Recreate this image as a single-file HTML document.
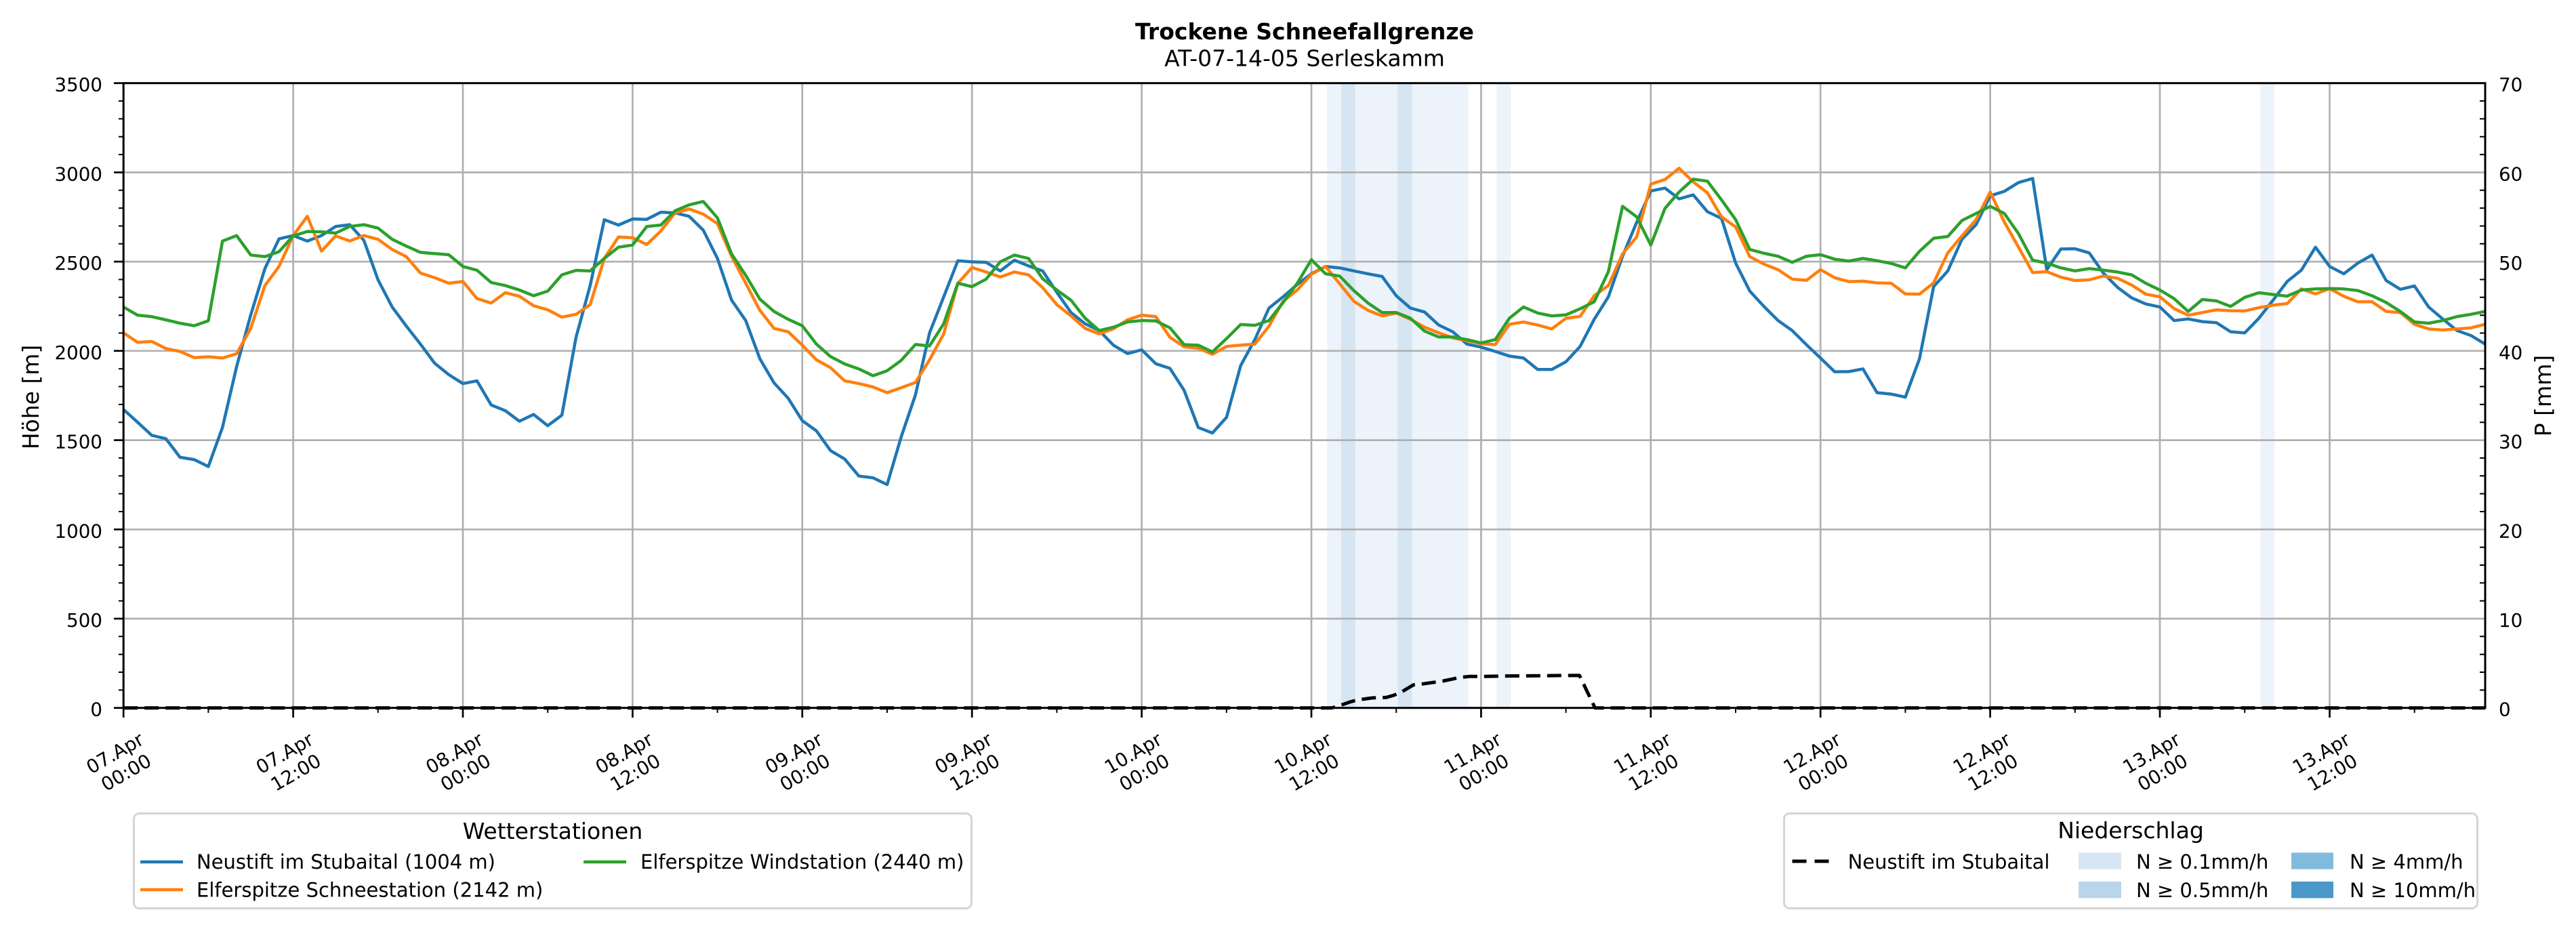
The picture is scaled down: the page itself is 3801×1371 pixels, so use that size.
<!DOCTYPE html>
<html><head><meta charset="utf-8">
<style>
html,body{margin:0;padding:0;background:#fff;}
svg{display:block;}
text{font-family:"DejaVu Sans","Liberation Sans",sans-serif;fill:#000;}
</style></head>
<body>
<svg width="3801" height="1371" viewBox="0 0 3801 1371" xmlns="http://www.w3.org/2000/svg">
<rect width="3801" height="1371" fill="#fff"/>

<!-- precipitation shading -->
<g>
<rect x="1958.2" y="122.7" width="208.5" height="922" fill="#edf3fa"/>
<rect x="2208.4" y="122.7" width="20.9" height="922" fill="#edf3fa"/>
<rect x="3335.2" y="122.7" width="20.9" height="922" fill="#edf3fa"/>
<rect x="1978.8" y="122.7" width="20.9" height="922" fill="#d6e5f2"/>
<rect x="2062.3" y="122.7" width="20.9" height="922" fill="#d6e5f2"/>
</g>

<!-- grid -->
<g stroke="#b0b0b0" stroke-width="2.7">
<line x1="182.2" y1="913.0" x2="3667" y2="913.0"/>
<line x1="182.2" y1="781.3" x2="3667" y2="781.3"/>
<line x1="182.2" y1="649.6" x2="3667" y2="649.6"/>
<line x1="182.2" y1="517.8" x2="3667" y2="517.8"/>
<line x1="182.2" y1="386.1" x2="3667" y2="386.1"/>
<line x1="182.2" y1="254.4" x2="3667" y2="254.4"/>
<line x1="432.6" y1="122.7" x2="432.6" y2="1044.7"/>
<line x1="683.0" y1="122.7" x2="683.0" y2="1044.7"/>
<line x1="933.4" y1="122.7" x2="933.4" y2="1044.7"/>
<line x1="1183.8" y1="122.7" x2="1183.8" y2="1044.7"/>
<line x1="1434.2" y1="122.7" x2="1434.2" y2="1044.7"/>
<line x1="1684.6" y1="122.7" x2="1684.6" y2="1044.7"/>
<line x1="1935.0" y1="122.7" x2="1935.0" y2="1044.7"/>
<line x1="2185.4" y1="122.7" x2="2185.4" y2="1044.7"/>
<line x1="2435.8" y1="122.7" x2="2435.8" y2="1044.7"/>
<line x1="2686.2" y1="122.7" x2="2686.2" y2="1044.7"/>
<line x1="2936.6" y1="122.7" x2="2936.6" y2="1044.7"/>
<line x1="3187.0" y1="122.7" x2="3187.0" y2="1044.7"/>
<line x1="3437.5" y1="122.7" x2="3437.5" y2="1044.7"/>
</g>

<!-- series -->
<g transform="matrix(20.867,0,0,-0.26343,182.2,1044.7)" fill="none" stroke-linejoin="round">
<polyline vector-effect="non-scaling-stroke" stroke="#1f77b4" stroke-width="4.5" points="0,1672 1,1600 2,1527 3,1508 4,1404 5,1391 6,1352 7,1571 8,1912 9,2202 10,2461 11,2628 12,2646 13,2615 14,2646 15,2697 16,2707 17,2619 18,2398 19,2246 20,2139 21,2038 22,1931 23,1867 24,1817 25,1832 26,1697 27,1665 28,1606 29,1644 30,1581 31,1640 32,2076 33,2366 34,2735 35,2705 36,2739 37,2737 38,2777 39,2773 40,2754 41,2676 42,2518 43,2284 44,2170 45,1956 46,1821 47,1735 48,1609 49,1552 50,1441 51,1394 52,1299 53,1289 54,1251 55,1520 56,1753 57,2101 58,2303 59,2505 60,2499 61,2496 62,2448 63,2508 64,2476 65,2448 66,2328 67,2215 68,2152 69,2114 70,2032 71,1985 72,2006 73,1928 74,1902 75,1779 76,1571 77,1540 78,1628 79,1918 80,2063 81,2240 82,2303 83,2372 84,2432 85,2473 86,2465 87,2448 88,2432 89,2417 90,2309 91,2240 92,2218 93,2145 94,2107 95,2038 96,2021 97,1997 98,1971 99,1960 100,1896 101,1896 102,1939 103,2025 104,2177 105,2303 106,2530 107,2720 108,2896 109,2912 110,2852 111,2874 112,2780 113,2742 114,2492 115,2335 116,2249 117,2170 118,2114 119,2035 120,1960 121,1883 122,1884 123,1899 124,1766 125,1758 126,1741 127,1956 128,2360 129,2448 130,2625 131,2707 132,2869 133,2894 134,2943 135,2966 136,2455 137,2571 138,2572 139,2549 140,2436 141,2356 142,2297 143,2263 144,2246 145,2170 146,2179 147,2164 148,2158 149,2107 150,2101 151,2183 152,2284 153,2389 154,2452 155,2581 156,2473 157,2432 158,2492 159,2537 160,2394 161,2345 162,2364 163,2246 164,2179 165,2114 166,2086 167,2038"/>
<polyline vector-effect="non-scaling-stroke" stroke="#ff7f0e" stroke-width="4.5" points="0,2101 1,2048 2,2053 3,2013 4,1997 5,1962 6,1967 7,1960 8,1984 9,2126 10,2366 11,2473 12,2646 13,2754 14,2559 15,2644 16,2616 17,2646 18,2625 19,2568 20,2528 21,2436 22,2410 23,2379 24,2389 25,2293 26,2268 27,2326 28,2306 29,2253 30,2230 31,2189 32,2205 33,2259 34,2518 35,2638 36,2634 37,2596 38,2672 39,2773 40,2795 41,2766 42,2713 43,2530 44,2379 45,2227 46,2126 47,2107 48,2032 49,1950 50,1906 51,1832 52,1817 53,1798 54,1766 55,1794 56,1823 57,1950 58,2095 59,2379 60,2467 61,2442 62,2414 63,2442 64,2426 65,2354 66,2259 67,2196 68,2126 69,2095 70,2124 71,2174 72,2200 73,2192 74,2076 75,2023 76,2015 77,1981 78,2025 79,2032 80,2038 81,2139 82,2278 83,2341 84,2429 85,2473 86,2376 87,2278 88,2227 89,2196 90,2212 91,2177 92,2133 93,2101 94,2073 95,2057 96,2040 97,2035 98,2149 99,2162 100,2145 101,2123 102,2183 103,2193 104,2309 105,2366 106,2543 107,2638 108,2934 109,2960 110,3023 111,2947 112,2886 113,2751 114,2694 115,2528 116,2486 117,2455 118,2402 119,2395 120,2455 121,2410 122,2388 123,2391 124,2381 125,2379 126,2319 127,2318 128,2381 129,2549 130,2644 131,2735 132,2890 133,2722 134,2581 135,2439 136,2444 137,2413 138,2394 139,2398 140,2419 141,2407 142,2369 143,2318 144,2303 145,2237 146,2200 147,2215 148,2230 149,2225 150,2224 151,2242 152,2256 153,2265 154,2347 155,2319 156,2349 157,2306 158,2275 159,2275 160,2221 161,2215 162,2149 163,2123 164,2117 165,2123 166,2129 167,2149"/>
<polyline vector-effect="non-scaling-stroke" stroke="#2ca02c" stroke-width="4.5" points="0,2246 1,2200 2,2192 3,2174 4,2155 5,2141 6,2169 7,2615 8,2646 9,2537 10,2528 11,2556 12,2644 13,2669 14,2667 15,2660 16,2697 17,2707 18,2688 19,2625 20,2587 21,2552 22,2545 23,2539 24,2473 25,2452 26,2383 27,2366 28,2341 29,2309 30,2335 31,2426 32,2451 33,2448 34,2518 35,2581 36,2593 37,2697 38,2705 39,2785 40,2818 41,2837 42,2745 43,2543 44,2423 45,2290 46,2221 47,2177 48,2141 49,2038 50,1968 51,1927 52,1899 53,1861 54,1889 55,1947 56,2036 57,2028 58,2152 59,2379 60,2360 61,2402 62,2499 63,2537 64,2518 65,2404 66,2341 67,2284 68,2183 69,2114 70,2133 71,2162 72,2170 73,2168 74,2129 75,2035 76,2032 77,1994 78,2069 79,2148 80,2143 81,2170 82,2271 83,2379 84,2511 85,2432 86,2419 87,2338 88,2268 89,2215 90,2215 91,2183 92,2111 93,2078 94,2078 95,2063 96,2044 97,2063 98,2183 99,2246 100,2212 101,2196 102,2202 103,2236 104,2275 105,2444 106,2810 107,2751 108,2593 109,2798 110,2890 111,2962 112,2951 113,2846 114,2735 115,2568 116,2547 117,2530 118,2496 119,2530 120,2539 121,2514 122,2503 123,2518 124,2505 125,2490 126,2465 127,2558 128,2631 129,2641 130,2730 131,2770 132,2810 133,2770 134,2657 135,2508 136,2492 137,2465 138,2448 139,2461 140,2452 141,2442 142,2426 143,2379 144,2341 145,2293 146,2221 147,2288 148,2280 149,2249 150,2300 151,2326 152,2316 153,2307 154,2341 155,2347 156,2349 157,2347 158,2338 159,2309 160,2271 161,2221 162,2162 163,2155 164,2170 165,2192 166,2205 167,2221"/>
</g>

<!-- spines -->
<rect x="182.2" y="122.7" width="3484.8" height="922" fill="none" stroke="#000" stroke-width="3"/>

<!-- precipitation dashed line -->
<polyline fill="none" stroke="#000" stroke-width="5" stroke-dasharray="21 10" stroke-linejoin="round" points="182.2,1044.7 1965,1044.7 1972.7,1042.7 1991.8,1036 2001.4,1033.3 2024.4,1030 2045.4,1029.3 2056.9,1026 2068.4,1021 2085.6,1010.7 2099,1009.3 2129.6,1005 2152.6,1000 2167.9,998.3 2187,998.3 2217.6,997.7 2330.5,996.7 2353.5,1044.7 3667,1044.7"/>

<!-- ticks -->
<g stroke="#000" stroke-width="2.7">
<!-- left major -->
<line x1="168" y1="1044.7" x2="182.2" y2="1044.7"/>
<line x1="168" y1="913.0" x2="182.2" y2="913.0"/>
<line x1="168" y1="781.3" x2="182.2" y2="781.3"/>
<line x1="168" y1="649.6" x2="182.2" y2="649.6"/>
<line x1="168" y1="517.8" x2="182.2" y2="517.8"/>
<line x1="168" y1="386.1" x2="182.2" y2="386.1"/>
<line x1="168" y1="254.4" x2="182.2" y2="254.4"/>
<line x1="168" y1="122.7" x2="182.2" y2="122.7"/>
</g>
<g stroke="#000" stroke-width="2">
<!-- left minor -->
<path d="M175 1018.4H182.2M175 992H182.2M175 965.7H182.2M175 939.3H182.2
M175 886.7H182.2M175 860.3H182.2M175 834H182.2M175 807.6H182.2
M175 755H182.2M175 728.6H182.2M175 702.3H182.2M175 675.9H182.2
M175 623.2H182.2M175 596.9H182.2M175 570.5H182.2M175 544.2H182.2
M175 491.5H182.2M175 465.2H182.2M175 438.8H182.2M175 412.5H182.2
M175 359.8H182.2M175 333.5H182.2M175 307.1H182.2M175 280.8H182.2
M175 228.1H182.2M175 201.7H182.2M175 175.4H182.2M175 149H182.2"/>
<!-- right minor (inward) -->
<path d="M3659 1018.4H3667M3659 992H3667M3659 965.7H3667M3659 939.3H3667
M3659 886.7H3667M3659 860.3H3667M3659 834H3667M3659 807.6H3667
M3659 755H3667M3659 728.6H3667M3659 702.3H3667M3659 675.9H3667
M3659 623.2H3667M3659 596.9H3667M3659 570.5H3667M3659 544.2H3667
M3659 491.5H3667M3659 465.2H3667M3659 438.8H3667M3659 412.5H3667
M3659 359.8H3667M3659 333.5H3667M3659 307.1H3667M3659 280.8H3667
M3659 228.1H3667M3659 201.7H3667M3659 175.4H3667M3659 149H3667"/>
<!-- x minor -->
<path d="M307.4 1044.7V1052M557.8 1044.7V1052M808.2 1044.7V1052M1058.6 1044.7V1052M1309 1044.7V1052M1559.4 1044.7V1052M1809.8 1044.7V1052M2060.2 1044.7V1052M2310.6 1044.7V1052M2561 1044.7V1052M2811.4 1044.7V1052M3061.8 1044.7V1052M3312.2 1044.7V1052M3562.7 1044.7V1052"/>
</g>
<g stroke="#000" stroke-width="2.7">
<path d="M182.2 1044.7V1059M432.6 1044.7V1059M683 1044.7V1059M933.4 1044.7V1059M1183.8 1044.7V1059M1434.2 1044.7V1059M1684.6 1044.7V1059M1935 1044.7V1059M2185.4 1044.7V1059M2435.8 1044.7V1059M2686.2 1044.7V1059M2936.6 1044.7V1059M3187 1044.7V1059M3437.5 1044.7V1059"/>
</g>

<!-- left tick labels -->
<g font-size="27.7" text-anchor="end">
<text x="151" y="1056.7">0</text>
<text x="151" y="925.0">500</text>
<text x="151" y="793.3">1000</text>
<text x="151" y="661.6">1500</text>
<text x="151" y="529.8">2000</text>
<text x="151" y="398.1">2500</text>
<text x="151" y="266.4">3000</text>
<text x="151" y="134.7">3500</text>
</g>
<!-- right tick labels -->
<g font-size="27.7" text-anchor="start">
<text x="3687" y="1056.7">0</text>
<text x="3687" y="925.0">10</text>
<text x="3687" y="793.3">20</text>
<text x="3687" y="661.6">30</text>
<text x="3687" y="529.8">40</text>
<text x="3687" y="398.1">50</text>
<text x="3687" y="266.4">60</text>
<text x="3687" y="134.7">70</text>
</g>

<!-- x tick labels -->
<g font-size="27.7" text-anchor="middle">
<g transform="translate(177.7,1125.5) rotate(-30)"><text><tspan x="0" y="-6.5">07.Apr</tspan><tspan x="0" y="26.5">00:00</tspan></text></g>
<g transform="translate(428.1,1125.5) rotate(-30)"><text><tspan x="0" y="-6.5">07.Apr</tspan><tspan x="0" y="26.5">12:00</tspan></text></g>
<g transform="translate(678.5,1125.5) rotate(-30)"><text><tspan x="0" y="-6.5">08.Apr</tspan><tspan x="0" y="26.5">00:00</tspan></text></g>
<g transform="translate(928.9,1125.5) rotate(-30)"><text><tspan x="0" y="-6.5">08.Apr</tspan><tspan x="0" y="26.5">12:00</tspan></text></g>
<g transform="translate(1179.3,1125.5) rotate(-30)"><text><tspan x="0" y="-6.5">09.Apr</tspan><tspan x="0" y="26.5">00:00</tspan></text></g>
<g transform="translate(1429.7,1125.5) rotate(-30)"><text><tspan x="0" y="-6.5">09.Apr</tspan><tspan x="0" y="26.5">12:00</tspan></text></g>
<g transform="translate(1680.1,1125.5) rotate(-30)"><text><tspan x="0" y="-6.5">10.Apr</tspan><tspan x="0" y="26.5">00:00</tspan></text></g>
<g transform="translate(1930.5,1125.5) rotate(-30)"><text><tspan x="0" y="-6.5">10.Apr</tspan><tspan x="0" y="26.5">12:00</tspan></text></g>
<g transform="translate(2180.9,1125.5) rotate(-30)"><text><tspan x="0" y="-6.5">11.Apr</tspan><tspan x="0" y="26.5">00:00</tspan></text></g>
<g transform="translate(2431.3,1125.5) rotate(-30)"><text><tspan x="0" y="-6.5">11.Apr</tspan><tspan x="0" y="26.5">12:00</tspan></text></g>
<g transform="translate(2681.7,1125.5) rotate(-30)"><text><tspan x="0" y="-6.5">12.Apr</tspan><tspan x="0" y="26.5">00:00</tspan></text></g>
<g transform="translate(2932.1,1125.5) rotate(-30)"><text><tspan x="0" y="-6.5">12.Apr</tspan><tspan x="0" y="26.5">12:00</tspan></text></g>
<g transform="translate(3182.5,1125.5) rotate(-30)"><text><tspan x="0" y="-6.5">13.Apr</tspan><tspan x="0" y="26.5">00:00</tspan></text></g>
<g transform="translate(3433.0,1125.5) rotate(-30)"><text><tspan x="0" y="-6.5">13.Apr</tspan><tspan x="0" y="26.5">12:00</tspan></text></g>
</g>

<!-- axis labels -->
<text transform="translate(57,586) rotate(-90)" font-size="33" text-anchor="middle">Höhe [m]</text>
<text transform="translate(3764,584) rotate(-90)" font-size="33" text-anchor="middle">P [mm]</text>

<!-- titles -->
<text x="1925" y="58" font-size="33" font-weight="bold" text-anchor="middle">Trockene Schneefallgrenze</text>
<text x="1925" y="97.5" font-size="33" text-anchor="middle">AT-07-14-05 Serleskamm</text>

<!-- left legend -->
<rect x="197.5" y="1200.5" width="1236" height="140" rx="8" ry="8" fill="#fff" stroke="#d5d5d5" stroke-width="3"/>
<text x="815.5" y="1238" font-size="33" text-anchor="middle">Wetterstationen</text>
<line x1="207" y1="1272" x2="270" y2="1272" stroke="#1f77b4" stroke-width="4.5"/>
<text x="290" y="1282" font-size="29">Neustift im Stubaital (1004 m)</text>
<line x1="207" y1="1313" x2="270" y2="1313" stroke="#ff7f0e" stroke-width="4.5"/>
<text x="290" y="1323.5" font-size="29">Elferspitze Schneestation (2142 m)</text>
<line x1="861" y1="1272" x2="924" y2="1272" stroke="#2ca02c" stroke-width="4.5"/>
<text x="945" y="1282" font-size="29">Elferspitze Windstation (2440 m)</text>

<!-- right legend -->
<rect x="2632.5" y="1200.5" width="1023" height="140" rx="8" ry="8" fill="#fff" stroke="#d5d5d5" stroke-width="3"/>
<text x="3144" y="1237" font-size="33" text-anchor="middle">Niederschlag</text>
<line x1="2644.5" y1="1271" x2="2699" y2="1271" stroke="#000" stroke-width="5" stroke-dasharray="21 12"/>
<text x="2726.6" y="1282" font-size="29">Neustift im Stubaital</text>
<rect x="3067" y="1258.3" width="63" height="24.4" fill="#d6e6f4"/>
<text x="3152" y="1282" font-size="29">N ≥ 0.1mm/h</text>
<rect x="3067" y="1301" width="63" height="24.4" fill="#b9d5ea"/>
<text x="3152" y="1324" font-size="29">N ≥ 0.5mm/h</text>
<rect x="3381" y="1258.3" width="62" height="24.4" fill="#82badb"/>
<text x="3467" y="1282" font-size="29">N ≥ 4mm/h</text>
<rect x="3381" y="1301" width="62" height="24.4" fill="#4a98c9"/>
<text x="3467" y="1324" font-size="29">N ≥ 10mm/h</text>
</svg>
</body></html>
